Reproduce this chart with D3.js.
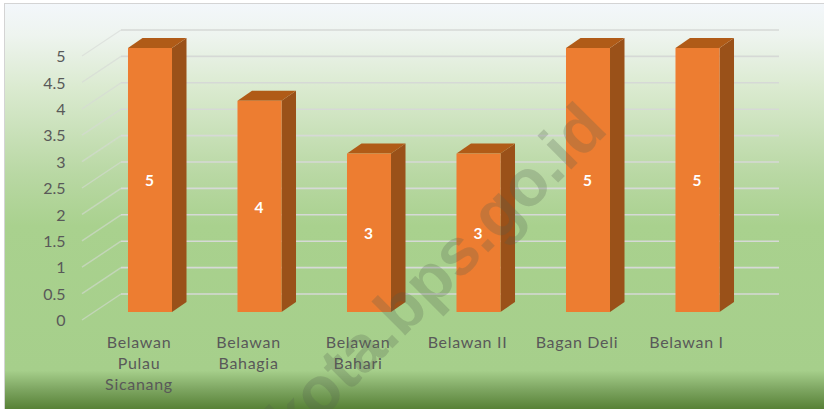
<!DOCTYPE html>
<html>
<head>
<meta charset="utf-8">
<script src="https://cdn.jsdelivr.net/npm/d3@7"></script>
<style>
html, body { margin: 0; padding: 0; background: #fff; overflow: hidden; }
svg { display: block; }
text { font-family: Lato, sans-serif; }
</style>
</head>
<body>
<svg id="canvas" width="824" height="409"></svg>
<script>
// values
let categories = ['Belawan Pulau Sicanang', 'Belawan Bahagia', 'Belawan Bahari', 'Belawan II', 'Bagan Deli', 'Belawan I']
let categoryLines = [['Belawan', 'Pulau', 'Sicanang'], ['Belawan', 'Bahagia'], ['Belawan', 'Bahari'], ['Belawan II'], ['Bagan Deli'], ['Belawan I']]
let values = [5, 4, 3, 3, 5, 5]
let yTicks = [0, 0.5, 1, 1.5, 2, 2.5, 3, 3.5, 4, 4.5, 5]

let canvas = d3.select('#canvas')

// the fake 3d depth of the bars and of the back wall
let barDx = 14.5, barDy = -10
let wallDx = 39, wallDy = -26

let xScale = d3.scaleBand()
    .domain(categories)
    .range([95.25, 752.25])
    .paddingInner(0.598)
    .paddingOuter(0.299)

let yScale = d3.scaleLinear()
    .domain([0, 5])
    .range([312, 48])

let defs = canvas.append('defs')

let bg = defs.append('linearGradient')
    .attr('id', 'bg')
    .attr('gradientUnits', 'userSpaceOnUse')
    .attr('x1', 0).attr('x2', 0).attr('y1', 3).attr('y2', 409)
let bgStops = [[0, '#f3f7fb'], [0.08, '#eef4ef'], [0.2, '#dcebd2'], [0.42, '#b9d8a4'], [0.55, '#a9d18e'], [0.905, '#a6cf8b'], [0.95, '#7fa763'], [1, '#578136']]
bgStops.forEach((s) => {
    bg.append('stop').attr('offset', s[0]).attr('stop-color', s[1])
})

// the reference is a slightly soft screenshot
defs.append('filter')
    .attr('id', 'soft')
    .append('feGaussianBlur')
    .attr('stdDeviation', 0.5)

canvas.append('rect')
    .attr('x', 4.5).attr('y', 3.5)
    .attr('width', 830).attr('height', 420)
    .attr('fill', 'url(#bg)')
    .attr('stroke', '#d4d4d4')

// back wall lines and the diagonal part running towards the viewer
let wall = canvas.append('g').attr('filter', 'url(#soft)')
let wallOffset = wallDy + 8

wall.selectAll('line.grid')
    .data(yTicks)
    .enter()
    .append('line')
    .attr('class', 'grid')
    .attr('x1', 121)
    .attr('x2', 779)
    .attr('y1', (d) => yScale(d) + wallOffset)
    .attr('y2', (d) => yScale(d) + wallOffset)
    .attr('stroke', '#d6d9d6')
    .attr('stroke-width', 1.6)

wall.selectAll('line.side')
    .data(yTicks)
    .enter()
    .append('line')
    .attr('class', 'side')
    .attr('x1', 121 - wallDx)
    .attr('x2', 121)
    .attr('y1', (d) => yScale(d) + wallOffset - wallDy)
    .attr('y2', (d) => yScale(d) + wallOffset)
    .attr('stroke', '#d6d9d6')
    .attr('stroke-opacity', 0.6)
    .attr('stroke-width', 1.4)

let block = canvas.selectAll('g.bar')
    .data(values)
    .enter()
    .append('g')
    .attr('class', 'bar')

let barX = (i) => xScale(categories[i])
let barW = xScale.bandwidth()

let points = (list) => list.map((p) => p.join(',')).join(' ')

// side face
block.append('polygon')
    .attr('fill', '#9a5119')
    .attr('points', (d, i) => {
        let x = barX(i) + barW
        return points([
            [x, yScale(d)],
            [x + barDx, yScale(d) + barDy],
            [x + barDx, yScale(0) + barDy],
            [x, yScale(0)]
        ])
    })

// top face
block.append('polygon')
    .attr('fill', '#b05b17')
    .attr('points', (d, i) => {
        let x = barX(i)
        return points([
            [x, yScale(d)],
            [x + barDx, yScale(d) + barDy],
            [x + barW + barDx, yScale(d) + barDy],
            [x + barW, yScale(d)]
        ])
    })

block.append('rect')
    .attr('x', (d, i) => barX(i))
    .attr('y', (d) => yScale(d))
    .attr('width', barW)
    .attr('height', (d) => yScale(0) - yScale(d))
    .attr('fill', '#ed7d31')

block.append('text')
    .text((d) => d)
    .attr('x', (d, i) => barX(i) + barW / 2 - 0.5)
    .attr('y', (d) => yScale(d / 2) + 1)
    .attr('dy', '0.35em')
    .attr('text-anchor', 'middle')
    .attr('fill', '#ffffff')
    .style('font-size', '15.5px')
    .style('font-weight', 'bold')

// y axis, labels sit at the front edge of the floor
let yAxis = d3.axisLeft(yScale)
    .tickValues(yTicks)
    .tickSize(0)
    .tickPadding(0)
    .tickFormat((d) => d)

let yGroup = canvas.append('g')
    .attr('transform', 'translate(65.5, 8.5)')
    .call(yAxis)
yGroup.select('.domain').remove()
yGroup.selectAll('text')
    .attr('fill', '#595959')
    .style('font-size', '16px')

// x axis, labels centred a bit left of the bars
let xAxis = d3.axisBottom(xScale)
    .tickSize(0)
    .tickPadding(0)
    .tickFormat('')

let xGroup = canvas.append('g')
    .attr('transform', 'translate(-11, 336.5)')
    .call(xAxis)
xGroup.select('.domain').remove()
xGroup.selectAll('.tick text').remove()
xGroup.selectAll('.tick')
    .append('text')
    .attr('text-anchor', 'middle')
    .attr('fill', '#595959')
    .style('font-size', '16px')
    .style('letter-spacing', '0.7px')
    .selectAll('tspan')
    .data((d, i) => categoryLines[i])
    .enter()
    .append('tspan')
    .attr('x', 0)
    .attr('y', (d, i) => 11 + i * 21)
    .text((d) => d)

// watermark goes over everything, it runs off the bottom like in the reference
canvas.append('text')
    .text('kota.bps.go.id')
    .attr('transform', 'translate(435, 273) rotate(-45)')
    .attr('text-anchor', 'middle')
    .attr('dy', '0.35em')
    .attr('fill', '#555f4f')
    .attr('fill-opacity', 0.25)
    .style('font-family', '"Liberation Sans", sans-serif')
    .style('font-size', '66px')
    .style('font-weight', 'bold')
</script>
</body>
</html>
